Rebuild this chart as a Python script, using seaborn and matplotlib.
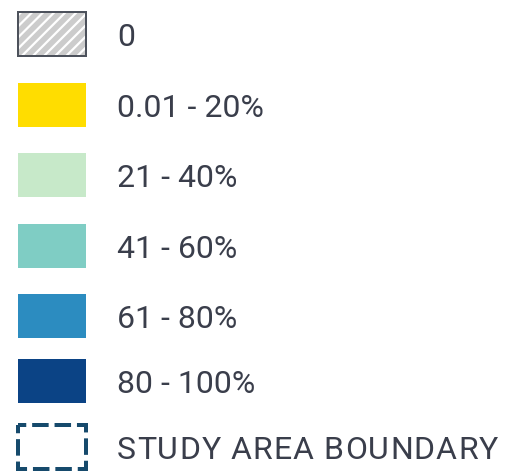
import matplotlib
matplotlib.use("Agg")
import matplotlib.pyplot as plt
import seaborn as sns
import pandas as pd
from matplotlib.patches import Rectangle

# ---- data ----
labels = ["0", "0.01 - 20%", "21 - 40%", "41 - 60%", "61 - 80%", "80 - 100%", "STUDY AREA BOUNDARY"]
colors = ["#cccccc", "#ffdd00", "#c7e9c9", "#7fcdc4", "#2c8cc0", "#0b4385", "#ffffff"]
kinds = ["hatch", "fill", "fill", "fill", "fill", "fill", "boundary"]

# ---- layout (pixels) ----
W, H, DPI = 507, 473, 100
row_y = [34, 105, 175, 246, 316, 381, 447]
sw_left, sw_w, sw_h = 18, 68, 44
text_x = 117
font_size = 23
tracking = [0, 0, 0, 0, 0, 0, 1.1]  # extra px between characters
text_color = "#3a3e4b"

sns.set_theme(style="white")
plt.rcParams["font.family"] = ["Roboto", "DejaVu Sans"]
plt.rcParams["hatch.linewidth"] = 1.6
plt.rcParams["lines.scale_dashes"] = False

fig = plt.figure(figsize=(W / DPI, H / DPI), dpi=DPI)
ax = fig.add_axes([0, 0, 1, 1])

df = pd.DataFrame({"y": row_y, "w": [sw_w] * len(labels), "label": labels})
min_gap = min(b - a for a, b in zip(row_y[:-1], row_y[1:]))
sns.barplot(data=df, x="w", y="y", hue="label", palette=dict(zip(labels, colors)),
            orient="h", native_scale=True, width=sw_h / min_gap, legend=False,
            ax=ax, saturation=1, linewidth=0, dodge=False)

ax.set_xlim(-sw_left, W - sw_left)
ax.set_ylim(H, 0)
ax.axis("off")

bars_sorted = sorted(ax.patches, key=lambda p: p.get_y())
px = 72.0 / DPI
for p, kind in zip(bars_sorted, kinds):
    if kind == "hatch":
        p.set_hatch("///")
        p.set_edgecolor("white")
        p.set_linewidth(0)
        ax.add_patch(Rectangle((p.get_x(), p.get_y()), p.get_width(), p.get_height(),
                               fill=False, edgecolor="#4d525c", linewidth=2 * px))
    elif kind == "boundary":
        p.set_facecolor("none")
        p.set_edgecolor("#164a6c")
        p.set_linewidth(4 * px)
        dash, gap = 16.5 * px, 5.9 * px
        p.set_linestyle((dash / 2, (dash, gap)))
        p.set_joinstyle("miter")
        p.set_capstyle("butt")

renderer = fig.canvas.get_renderer()


def text_width(s):
    if not s:
        return 0.0
    t = ax.text(0, 0, s + "|", fontsize=font_size)
    w1 = t.get_window_extent(renderer).width
    t.remove()
    t = ax.text(0, 0, "|", fontsize=font_size)
    w2 = t.get_window_extent(renderer).width
    t.remove()
    return w1 - w2


for y, lab, tr in zip(row_y, labels, tracking):
    if tr == 0:
        ax.text(text_x - sw_left, y, lab, fontsize=font_size, color=text_color,
                va="center_baseline", ha="left")
    else:
        for i, ch in enumerate(lab):
            if ch == " ":
                continue
            x = text_x - sw_left + text_width(lab[:i]) + i * tr
            ax.text(x, y, ch, fontsize=font_size, color=text_color,
                    va="center_baseline", ha="left")

fig.savefig("out.png", dpi=DPI, facecolor="white")
